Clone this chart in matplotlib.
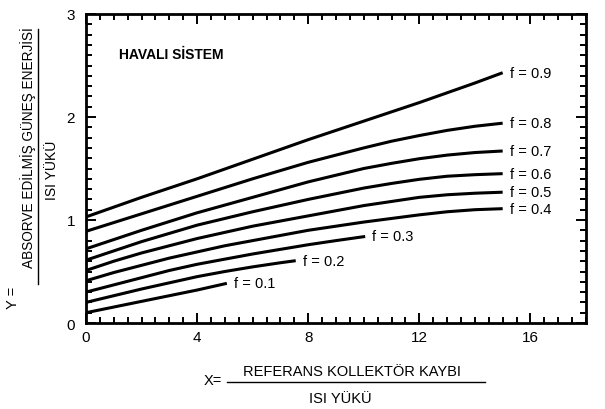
import matplotlib
matplotlib.use("Agg")
import matplotlib.pyplot as plt
from matplotlib.lines import Line2D
from matplotlib.ticker import MultipleLocator

plt.rcParams['font.family'] = ['Liberation Sans', 'DejaVu Sans']

# Data: f-curves, Y vs X
curve_labels = ["f = 0.1", "f = 0.2", "f = 0.3", "f = 0.4", "f = 0.5",
                "f = 0.6", "f = 0.7", "f = 0.8", "f = 0.9"]
x_f01 = [0, 1, 2, 3, 4, 5.07]
y_f01 = [0.10, 0.155, 0.21, 0.265, 0.32, 0.385]
x_f02 = [0, 1, 2, 3, 4, 5, 6, 7, 7.55]
y_f02 = [0.20, 0.265, 0.33, 0.39, 0.45, 0.50, 0.545, 0.585, 0.605]
x_f03 = [0, 1, 2, 3, 4, 5, 6, 7, 8, 9, 10.05]
y_f03 = [0.30, 0.37, 0.44, 0.51, 0.57, 0.62, 0.67, 0.715, 0.76, 0.80, 0.84]
x_f04 = [0, 1, 2, 3, 4, 5, 6, 7, 8, 9, 10, 11, 12, 13, 14, 15]
y_f04 = [0.41, 0.49, 0.56, 0.63, 0.69, 0.75, 0.80, 0.85, 0.90, 0.94, 0.98,
         1.015, 1.05, 1.08, 1.10, 1.11]
x_f05 = [0, 1, 2, 3, 4, 5, 6, 7, 8, 9, 10, 11, 12, 13, 14, 15]
y_f05 = [0.51, 0.60, 0.68, 0.75, 0.82, 0.88, 0.94, 0.99, 1.04, 1.09, 1.14,
         1.18, 1.22, 1.245, 1.26, 1.27]
x_f06 = [0, 1, 2, 3, 4, 5, 6, 7, 8, 9, 10, 11, 12, 13, 14, 15]
y_f06 = [0.61, 0.70, 0.79, 0.87, 0.95, 1.015, 1.08, 1.14, 1.20, 1.255, 1.31,
         1.355, 1.395, 1.425, 1.44, 1.45]
x_f07 = [0, 1, 2, 3, 4, 5, 6, 7, 8, 9, 10, 11, 12, 13, 14, 15]
y_f07 = [0.72, 0.81, 0.90, 0.985, 1.07, 1.145, 1.22, 1.295, 1.37, 1.435, 1.50,
         1.55, 1.595, 1.63, 1.655, 1.67]
x_f08 = [0, 1, 2, 3, 4, 5, 6, 7, 8, 9, 10, 11, 12, 13, 14, 15]
y_f08 = [0.89, 0.975, 1.06, 1.145, 1.23, 1.315, 1.40, 1.48, 1.56, 1.63, 1.70,
         1.765, 1.82, 1.87, 1.91, 1.94]
x_f09 = [0, 2, 4, 6, 8, 10, 12, 14, 15]
y_f09 = [1.03, 1.22, 1.40, 1.59, 1.78, 1.96, 2.14, 2.33, 2.43]

x_series = [x_f01, x_f02, x_f03, x_f04, x_f05, x_f06, x_f07, x_f08, x_f09]
y_series = [y_f01, y_f02, y_f03, y_f04, y_f05, y_f06, y_f07, y_f08, y_f09]

x_ticks = [0, 4, 8, 12, 16]
y_ticks = [0, 1, 2, 3]

fig = plt.figure(figsize=(6.05, 4.10), dpi=100)
ax = fig.add_axes([86/605, 1-324/410, 500/605, 309/410])

for xs, ys, lab in zip(x_series, y_series, curve_labels):
    ax.plot(xs, ys, color='black', lw=2.2, solid_capstyle='butt', solid_joinstyle='round')
    ax.annotate(lab, xy=(xs[-1], ys[-1]), xytext=(5, 0), textcoords='offset points',
                va='center', ha='left', fontsize=10.5)

ax.set_xlim(0, 18)
ax.set_ylim(0, 3)
ax.set_xticks(x_ticks)
ax.set_yticks(y_ticks)
ax.xaxis.set_minor_locator(MultipleLocator(0.5))
ax.yaxis.set_minor_locator(MultipleLocator(0.1))
ax.tick_params(which='both', direction='in', top=True, right=True, width=1.4, color='black')
ax.tick_params(which='major', length=7.5, labelsize=11, pad=5)
ax.tick_params(which='minor', length=4.5)
ax.tick_params(axis='y', which='major', pad=8)
for sp in ax.spines.values():
    sp.set_linewidth(2.0)

ax.text(1.2, 2.61, "HAVALI SİSTEM", fontsize=10, fontweight='bold', va='center', ha='left')

# Y axis label as a fraction
fig.text(13/605, 1-298/410, "Y =", rotation=90, ha='center', va='center', fontsize=10.5)
fig.add_artist(Line2D([38/605, 38/605], [1-285/410, 1-30/410], color='black', lw=1.0,
                      transform=fig.transFigure))
fig.text(28/605, 1-148/410, "ABSORVE EDİLMİŞ GÜNEŞ ENERJİSİ", rotation=90,
         ha='center', va='center', fontsize=9.8)
fig.text(52/605, 1-170/410, "ISI YÜKÜ", rotation=90, ha='center', va='center', fontsize=10)

# X axis label as a fraction
fig.text(213/605, 1-381/410, "X=", ha='center', va='center', fontsize=10.5)
fig.add_artist(Line2D([227/605, 485/605], [1-383/410, 1-383/410], color='black', lw=1.0,
                      transform=fig.transFigure))
fig.text(352/605, 1-372/410, "REFERANS KOLLEKTÖR KAYBI", ha='center', va='center', fontsize=10.5)
fig.text(340/605, 1-399/410, "ISI YÜKÜ", ha='center', va='center', fontsize=10.5)

fig.savefig("out.png", dpi=100)
